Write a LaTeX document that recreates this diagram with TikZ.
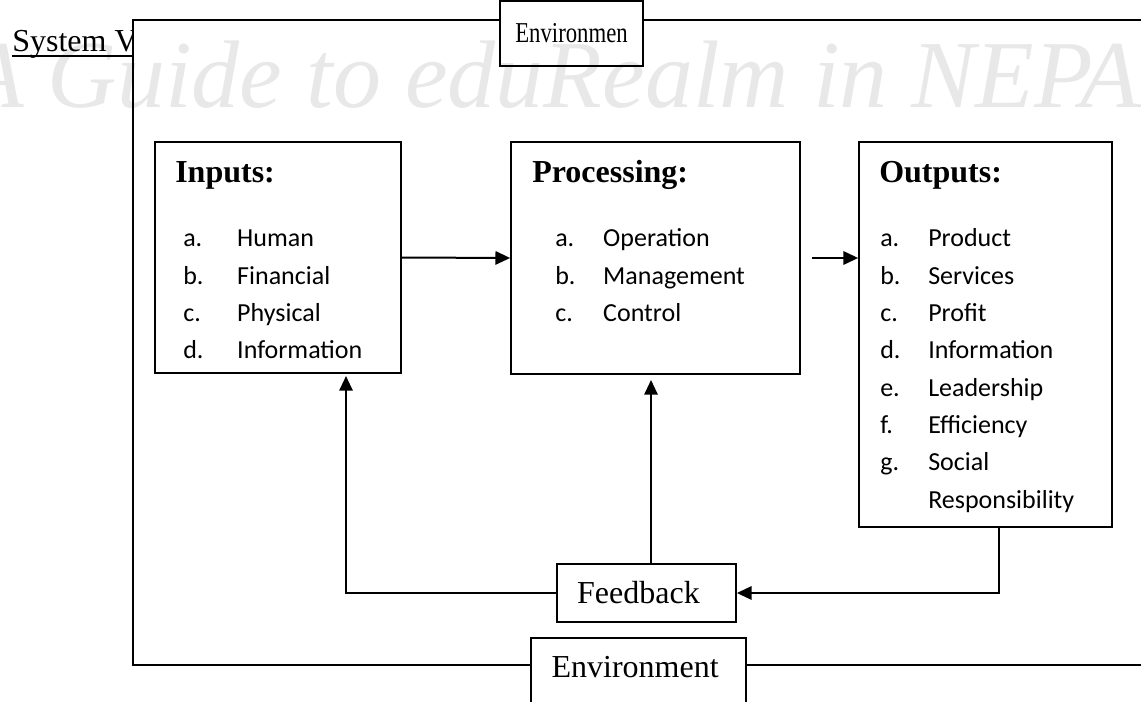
\documentclass[tikz,border=0pt]{standalone}
\usepackage{fontspec}
\setmainfont{Liberation Serif}
\newfontfamily\listfont{Carlito}
\usepackage{tikz}
\usetikzlibrary{arrows.meta}
\tikzstyle{block}=[draw,fill=white,line width=1.3pt,inner sep=0pt]
\tikzstyle{tag}=[draw,fill=white,line width=1.3pt,inner sep=0pt,font=\fontsize{24}{28}\selectfont]
\tikzstyle{head}=[anchor=base west,inner sep=0pt,font=\fontsize{24}{28}\selectfont\bfseries]
\tikzstyle{entry}=[anchor=base west,inner sep=0pt,font=\listfont\fontsize{19.5}{23}\selectfont]
\tikzstyle{edge}=[draw,line width=1.5pt,-{Triangle[length=11pt,width=10pt]}]
\newcommand{\itm}[3]{\makebox[#1][l]{#2}#3}

\begin{document}
\begin{tikzpicture}[x=0.75pt,y=-0.75pt]
        \useasboundingbox (0,0) rectangle (1141,702);
        % heading, partly hidden by the frame
        \node[anchor=base west,inner sep=0pt,font=\fontsize{24}{28}\selectfont] (sysview) at (12,52) {System View};
        \draw[line width=0.9pt] ([yshift=-3pt]sysview.base west) -- ([yshift=-3pt]sysview.base east);
        \draw[fill=white,line width=1.2pt] (133,20) rectangle (1180,665);
        % boxes
        \node[tag,minimum width=107.25pt,minimum height=48.75pt,font=\fontsize{21.6}{26}\selectfont] (envtop) at (571.5,33.5) {\scalebox{0.79}[1]{Environmen}};
        \node[block,minimum width=184.5pt,minimum height=173.25pt] (inputs) at (278,257.5) {};
        \node[block,minimum width=216.75pt,minimum height=174pt] (processing) at (655.5,258) {};
        \node[block,minimum width=189.75pt,minimum height=288.75pt] (outputs) at (985.5,334.5) {};
        \node[tag,minimum width=134.25pt,minimum height=43.5pt] (feedback) at (646.5,593) {\kern-12pt Feedback};
        \node[tag,anchor=north,minimum width=161.25pt,text height=30pt,text depth=30pt] (envbot) at (638.5,637) {\kern-5pt Environment};
        % box texts
        \node[head] (inputs-head) at (175,183) {Inputs:};
        \node[head] (processing-head) at (532,183) {Processing:};
        \node[head] (outputs-head) at (879,183) {Outputs:};
        \foreach \n/\t [count=\i from 0] in {a/Human,b/Financial,c/Physical,d/Information}
          \node[entry] (in-\n) at (183,247+37.3*\i) {\itm{40.5pt}{\n.}{\t}};
        \foreach \n/\t [count=\i from 0] in {a/Operation,b/Management,c/Control}
          \node[entry] (proc-\n) at (555,247+37.3*\i) {\itm{36pt}{\n.}{\t}};
        \foreach \n/\t [count=\i from 0] in {a/Product,b/Services,c/Profit,d/Information,e/Leadership,f/Efficiency,g/Social}
          \node[entry] (out-\n) at (880,247+37.3*\i) {\itm{36pt}{\n.}{\t}};
        \node[entry] (out-h) at (928,508.1) {Responsibility};
        % connectors
        \coordinate (procout) at (812,258);
        \coordinate (tipleft) at (346,376);
        \coordinate (tipmid) at (651,380);
        \coordinate (outdrop) at (999,527);
        \draw[edge] (inputs.east) -- (processing.west);
        \draw[edge] (procout) -- (procout -| outputs.west);
        \draw[edge] (feedback.west) -| (tipleft);
        \draw[edge] (tipmid |- feedback.north) -- (tipmid);
        \draw[edge] (outdrop) |- (feedback.east);
        % watermark
        \node[anchor=base west,inner sep=0pt,opacity=0.09,font=\fontsize{72}{76}\selectfont\itshape] (mark) at (-35,108) {A Guide to eduRealm in NEPAL};
      \end{tikzpicture}
\end{document}
